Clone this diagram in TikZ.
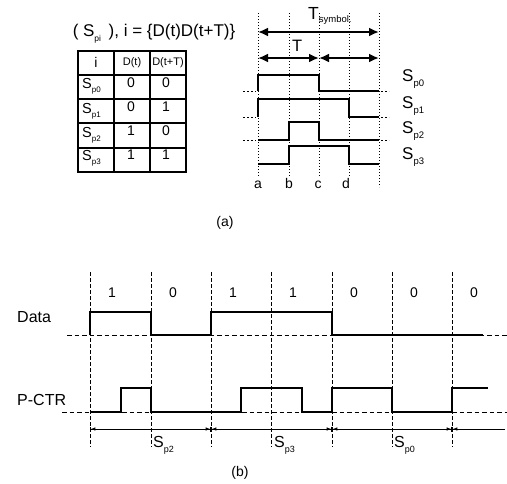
\documentclass[tikz,border=0pt]{standalone}
\usepackage{fontspec}
\setmainfont{Liberation Sans}
\usetikzlibrary{arrows.meta}
\newcommand{\SubS}[3]{{\fontsize{#1}{#1}\selectfont S\raisebox{-0.6ex}{\fontsize{#2}{#2}\selectfont #3}}}
\tikzset{
  sig/.style={line width=2.3pt, line join=miter},
  sigb/.style={line width=1.9pt},
  vdot/.style={line width=1pt, dotted},
  vdash/.style={line width=1pt, dash pattern=on 3.5pt off 2.5pt},
  base/.style={line width=0.9pt, dash pattern=on 4.5pt off 3pt},
  stub/.style={line width=0.7pt, dash pattern=on 2pt off 2pt},
  bigarrow/.style={line width=2.2pt, {Latex[length=10pt,width=9pt]}-{Latex[length=10pt,width=9pt]}},
  smallarrow/.style={line width=0.8pt, {Bar[width=5pt]Latex[length=4.5pt,width=3.5pt]}-{Latex[length=4.5pt,width=3.5pt]Bar[width=5pt]}},
  tbl/.style={line width=1.8pt},
  txt/.style={inner sep=0pt, font=\fontsize{14}{14}\selectfont},
  cellhd/.style={inner sep=0pt, font=\fontsize{11}{11}\selectfont},
  cellv/.style={inner sep=0pt, font=\fontsize{14}{14}\selectfont},
  lab/.style={inner sep=0pt, font=\fontsize{16}{16}\selectfont},
  sl/.style={inner sep=0pt, anchor=base west},
}
\begin{document}
\begin{tikzpicture}[x=1pt,y=-1pt]
\useasboundingbox (0,0) rectangle (507,483);

% ---------- (a) table ----------
\node[inner sep=0pt, anchor=base, font=\fontsize{17}{17}\selectfont] (title) at (154,36) {( \SubS{17}{8.5}{pi}\, ), i = \{D(t)D(t+T)\}};
\draw[tbl] (78,51) rectangle (186,172);
\foreach \xx in {114,150} \draw[tbl] (\xx,51) -- (\xx,172);
\foreach \yy in {75,99,123,148} \draw[tbl] (78,\yy) -- (186,\yy);
\node[cellv] (hi) at (96,62) {i};
\node[cellhd] (hd1) at (132,63) {D(t)};
\node[cellhd] (hd2) at (168,63) {D(t+T)};
\node[sl] (r0) at (82,88) {\SubS{14.5}{8}{p0}};
\node[sl] (r1) at (82,113) {\SubS{14.5}{8}{p1}};
\node[sl] (r2) at (82,137) {\SubS{14.5}{8}{p2}};
\node[sl] (r3) at (82,160) {\SubS{14.5}{8}{p3}};
\node[cellv] (v01) at (131,83) {0};
\node[cellv] (v02) at (166,83) {0};
\node[cellv] (v11) at (131,107) {0};
\node[cellv] (v12) at (166,107) {1};
\node[cellv] (v21) at (131,131) {1};
\node[cellv] (v22) at (166,131) {0};
\node[cellv] (v31) at (131,155) {1};
\node[cellv] (v32) at (166,155) {1};

% ---------- (a) timing ----------
\foreach \xx in {258,289,319,349} \draw[vdot] (\xx,13) -- (\xx,176);
\draw[vdot] (379,13) -- (379,187);
\coordinate (ta) at (258,32);
\coordinate (tb) at (379,32);
\coordinate (ua) at (258,58);
\coordinate (uc) at (319,58);
\coordinate (ue) at (379,58);
\draw[bigarrow] (ta) -- (tb);
\draw[bigarrow] (ua) -- (uc);
\draw[bigarrow] (uc) -- (ue);
\node[sl] (tsym) at (308,19) {{\fontsize{17.5}{17.5}\selectfont T}\raisebox{-0.75ex}{\fontsize{9.5}{9.5}\selectfont symbol.}};
\node[sl] (tT) at (292,51) {\fontsize{16.5}{16.5}\selectfont T};

\draw[sig] (258,91) -- (258,75) -- (319,75) -- (319,91) -- (379,91);
\draw[sig] (258,117) -- (258,99) -- (349,99) -- (349,117) -- (379,117);
\draw[sig] (258,140) -- (289,140) -- (289,122) -- (319,122) -- (319,140) -- (379,140);
\draw[sig] (258,164) -- (289,164) -- (289,146) -- (349,146) -- (349,164) -- (379,164);
\foreach \yy in {91,117,140} {
  \draw[stub] (243,\yy) -- (256,\yy);
  \draw[stub] (381,\yy) -- (389,\yy);
}
\node[sl] (s0) at (402,81) {\SubS{17}{9.5}{p0}};
\node[sl] (s1) at (402,108) {\SubS{17}{9.5}{p1}};
\node[sl] (s2) at (402,133) {\SubS{17}{9.5}{p2}};
\node[sl] (s3) at (402,159) {\SubS{17}{9.5}{p3}};
\node[txt, anchor=base] (la) at (258,188) {a};
\node[txt, anchor=base] (lb) at (289,188) {b};
\node[txt, anchor=base] (lc) at (318,188) {c};
\node[txt, anchor=base] (ld) at (346,188) {d};
\node[txt] (capa) at (225,223) {(a)};

% ---------- (b) ----------
\foreach \xx in {90,151,211,271,332,392,452} \draw[vdash] (\xx,272) -- (\xx,447);
\foreach \xx/\bb in {90/1,151/0,211/1,271/1,332/0,392/0,452/0} \node[txt, anchor=base] at (\xx+22,297) {\bb};
\node[lab, anchor=base west] (data) at (17,322) {Data};
\node[lab, anchor=base west] (pctr) at (17,405) {P-CTR};
\draw[base] (67,335) -- (507,335);
\draw[base] (62,412) -- (507,412);
\draw[sigb] (90,335) -- (90,312) -- (151,312) -- (151,335) -- (211,335) -- (211,312) -- (332,312) -- (332,335) -- (483,335);
\draw[sigb] (90,412) -- (121,412) -- (121,388) -- (151,388) -- (151,412) -- (241,412) -- (241,388) -- (302,388) -- (302,412) -- (332,412) -- (332,388) -- (392,388) -- (392,412) -- (452,412) -- (452,388) -- (488,388);
\coordinate (d0) at (90,429);
\coordinate (d1) at (211,429);
\coordinate (d2) at (332,429);
\coordinate (d3) at (452,429);
\coordinate (d4) at (505,429);
\draw[smallarrow] (d0) -- (d1);
\draw[smallarrow] (d1) -- (d2);
\draw[smallarrow] (d2) -- (d3);
\draw[line width=0.8pt, {Bar[width=5pt]Latex[length=4.5pt,width=3.5pt]}-] (d3) -- (d4);
\node[sl] (b2) at (153,447) {\SubS{16}{9}{p2}};
\node[sl] (b3) at (274,447) {\SubS{16}{9}{p3}};
\node[sl] (b0) at (394,447) {\SubS{16}{9}{p0}};
\node[txt] (capb) at (240,473) {(b)};
\end{tikzpicture}
\end{document}
